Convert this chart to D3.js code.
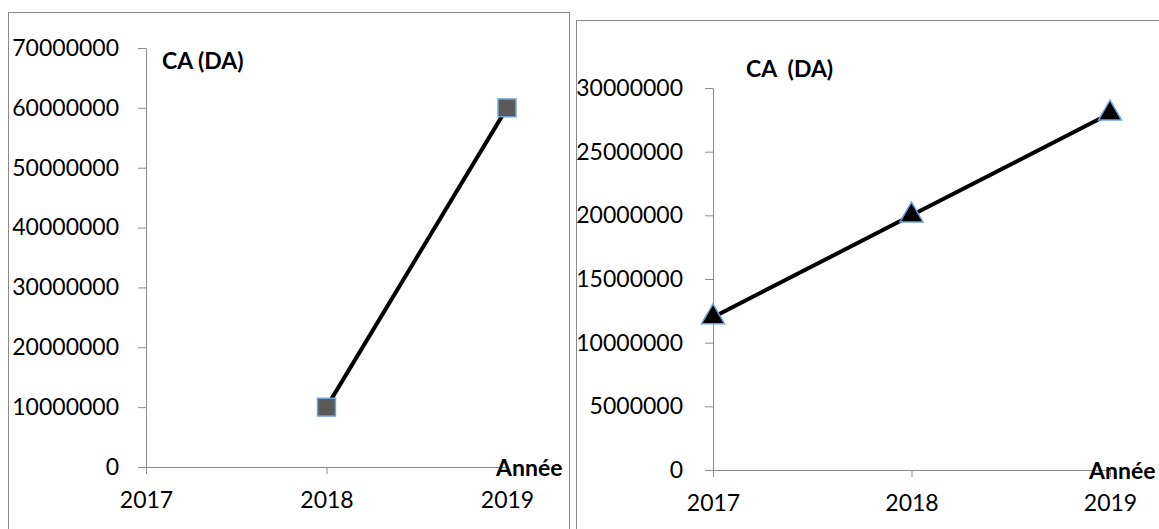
<!DOCTYPE html>
<html>
<head>
<meta charset="utf-8">
<script src="https://cdn.jsdelivr.net/npm/d3@7"></script>
<style>
  body { margin: 0; background: #fff; }
  text { font-family: Lato, "Open Sans", sans-serif; }
</style>
</head>
<body>
<svg id="chart" width="1159" height="529"></svg>
<script>
// donnees
var annees = ["2017", "2018", "2019"];
var caGauche = [null, 10000000, 60000000];
var caDroite = [12000000, 20000000, 28000000];
var ticksGauche = [0, 10000000, 20000000, 30000000, 40000000, 50000000, 60000000, 70000000];
var ticksDroite = [0, 5000000, 10000000, 15000000, 20000000, 25000000, 30000000];

var svg = d3.select("#chart");
var grisAxe = "#8c8c8c";
var fs = 23;

// cadres des deux graphiques
svg.append("rect").attr("x", 8.5).attr("y", 12.5).attr("width", 561).attr("height", 540)
    .attr("fill", "none").attr("stroke", "#8a8a8a").attr("stroke-width", 1);
svg.append("rect").attr("x", 576.5).attr("y", 20.5).attr("width", 600).attr("height", 540)
    .attr("fill", "none").attr("stroke", "#8a8a8a").attr("stroke-width", 1);

function dessineGraphique(conf) {
    var g = svg.append("g");
    var x = d3.scalePoint().domain(annees).range(conf.xRange);
    var y = d3.scaleLinear().domain([0, d3.max(conf.ticks)]).range(conf.yRange);

    g.append("g")
        .attr("transform", "translate(" + conf.xRange[0] + ",0)")
        .call(d3.axisLeft(y).tickValues(conf.ticks).tickSize(8).tickSizeOuter(0)
            .tickPadding(conf.padY).tickFormat(d3.format("d")));
    g.append("g")
        .attr("transform", "translate(0," + conf.yRange[0] + ")")
        .call(d3.axisBottom(x).tickSize(7).tickSizeOuter(0).tickPadding(18));
    g.selectAll(".domain, .tick line").attr("stroke", grisAxe);
    g.selectAll(".tick text").attr("font-size", fs).attr("fill", "#000")
        .attr("font-family", "Lato, sans-serif");

    // titre et libelle axe
    g.append("text").attr("x", conf.titre[0]).attr("y", conf.titre[1])
        .attr("font-size", fs).attr("font-weight", "bold").attr("xml:space", "preserve")
        .text(conf.texteTitre);
    g.append("text").attr("x", conf.annee[0]).attr("y", conf.annee[1])
        .attr("font-size", fs).attr("font-weight", "bold").text("Année");

    var pts = annees.map(function(a, i) { return {annee: a, v: conf.valeurs[i]}; })
        .filter(function(d) { return d.v != null; });

    var ligne = d3.line()
        .x(function(d) { return x(d.annee); })
        .y(function(d) { return y(d.v); });
    g.append("path").datum(pts).attr("d", ligne)
        .attr("fill", "none").attr("stroke", "#000").attr("stroke-width", 4);

    g.selectAll(".marque").data(pts).enter().append("path")
        .attr("class", "marque")
        .attr("transform", function(d) { return "translate(" + x(d.annee) + "," + y(d.v) + ")"; })
        .attr("d", d3.symbol().type(conf.symbole).size(conf.tailleSymbole))
        .attr("fill", conf.couleur)
        .attr("stroke", "#6fa0d8").attr("stroke-width", 1.5);
}

dessineGraphique({
    valeurs: caGauche,
    ticks: ticksGauche,
    xRange: [146, 507],
    yRange: [467, 48],
    padY: 19,
    texteTitre: "CA (DA)",
    titre: [162, 69],
    annee: [496, 476],
    symbole: d3.symbolSquare,
    tailleSymbole: 320,
    couleur: "#595959"
});

dessineGraphique({
    valeurs: caDroite,
    ticks: ticksDroite,
    xRange: [713, 1110],
    yRange: [470, 88],
    padY: 22,
    texteTitre: "CA  (DA)",
    titre: [746, 77],
    annee: [1089, 479],
    symbole: d3.symbolTriangle,
    tailleSymbole: 230,
    couleur: "#000"
});
</script>
</body>
</html>
